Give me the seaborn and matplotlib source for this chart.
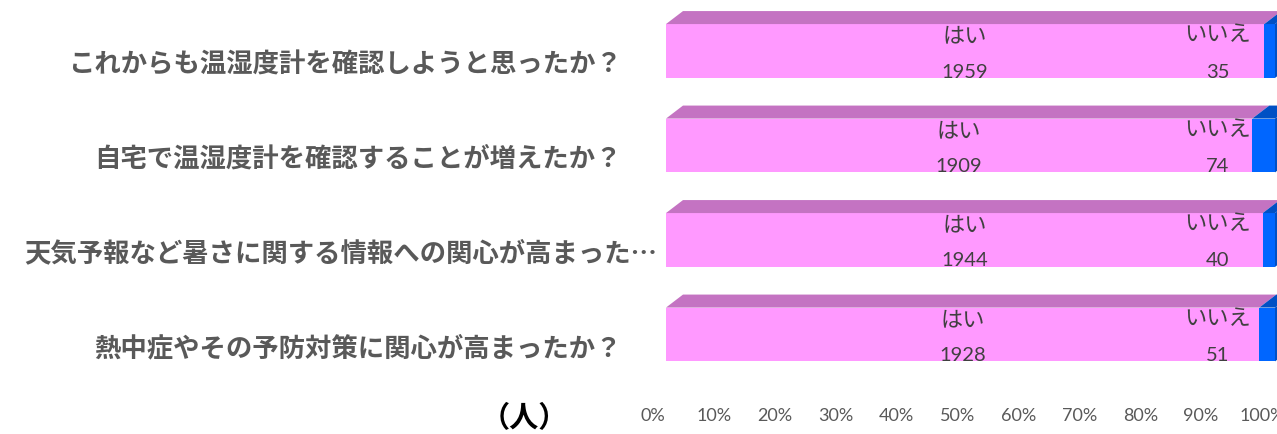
import matplotlib
matplotlib.use("Agg")
import matplotlib.pyplot as plt
import matplotlib.transforms as mtransforms
from matplotlib.patches import Polygon
import numpy as np
import pandas as pd
import seaborn as sns

# ---- data ----
questions = [
    "これからも温湿度計を確認しようと思ったか？",
    "自宅で温湿度計を確認することが増えたか？",
    "天気予報など暑さに関する情報への関心が高まった…",
    "熱中症やその予防対策に関心が高まったか？",
]
yes_counts = [1959, 1909, 1944, 1928]
no_counts = [35, 74, 40, 51]
yes_label = "はい"
no_label = "いいえ"
tick_values = [0.0, 0.1, 0.2, 0.3, 0.4, 0.5, 0.6, 0.7, 0.8, 0.9, 1.0]
tick_labels = ["0%", "10%", "20%", "30%", "40%", "50%", "60%", "70%", "80%", "90%", "100%"]
unit_label = "（人）"

# ---- style ----
PINK = "#FF99FF"
PINK_TOP = "#C473C2"
BLUE = "#0066FF"
BLUE_TOP = "#0050C4"
LABEL_GREY = "#595959"
TEXT_DARK = "#404040"

sns.set_theme(style="white")
plt.rcParams["font.family"] = ["Noto Sans CJK JP", "DejaVu Sans"]

W, H = 1277, 435
fig = plt.figure(figsize=(W / 100, H / 100), dpi=100)
ax_left, ax_right = 666, 1275
ax_top, ax_bottom = 0, 400
ax = fig.add_axes([ax_left / W, 1 - ax_bottom / H, (ax_right - ax_left) / W, (ax_bottom - ax_top) / H])

df = pd.DataFrame({"question": questions, "yes": yes_counts, "no": no_counts})
df["total"] = df["yes"] + df["no"]
df["yes_share"] = df["yes"] / df["total"]
df["all"] = 1.0

bar_w = 0.57
sns.barplot(data=df, y="question", x="all", orient="h", color=BLUE, saturation=1,
            width=bar_w, linewidth=0, ax=ax)
sns.barplot(data=df, y="question", x="yes_share", orient="h", color=PINK, saturation=1,
            width=bar_w, linewidth=0, ax=ax)

row_px = 94.5
first_center_px = 52
ax.set_xlim(0, 1)
ax.set_ylim((ax_bottom - first_center_px) / row_px, (ax_top - first_center_px) / row_px)

# 3D faces
dx = 17 / (ax_right - ax_left)
dy = 13 / row_px


def off(px_x, px_y):
    return ax.transData + mtransforms.ScaledTranslation(px_x / 100, -px_y / 100, fig.dpi_scale_trans)


for i, p in enumerate(df["yes_share"]):
    yt = i - bar_w / 2
    yb = i + bar_w / 2
    ax.add_patch(Polygon([(0, yt), (p, yt), (p + dx, yt - dy), (dx, yt - dy)],
                         closed=True, facecolor=PINK_TOP, edgecolor="none", clip_on=False))
    ax.add_patch(Polygon([(p, yt), (1, yt), (1 + dx, yt - dy), (p + dx, yt - dy)],
                         closed=True, facecolor=BLUE_TOP, edgecolor="none", clip_on=False))
    ax.add_patch(Polygon([(1, yt), (1 + dx, yt - dy), (1 + dx, yb - dy), (1, yb)],
                         closed=True, facecolor=BLUE_TOP, edgecolor="none", clip_on=False))

    # in-bar labels
    ax.text(p / 2, i, yes_label, transform=off(0, -16), ha="center", va="center",
            fontsize=16, color=TEXT_DARK)
    ax.text(p / 2, i, str(df["yes"][i]), transform=off(0, 20), ha="center", va="center",
            fontsize=14.5, color=TEXT_DARK, family=["Lato", "DejaVu Sans"])
    ax.text(1, i, no_label, transform=off(-24, -17), ha="right", va="center",
            fontsize=16, color=TEXT_DARK)
    ax.text(1, i, str(df["no"][i]), transform=off(-57, 20), ha="center", va="center",
            fontsize=14.5, color=TEXT_DARK, family=["Lato", "DejaVu Sans"])

# category labels
for i, q in enumerate(questions):
    x_px = 657 if q.endswith("…") else 622
    tr = mtransforms.blended_transform_factory(fig.transFigure, ax.transData) + \
        mtransforms.ScaledTranslation(0, -13 / 100, fig.dpi_scale_trans)
    ax.text(x_px / W, i, q, transform=tr, ha="right", va="center", fontsize=19,
            fontweight="bold", color=LABEL_GREY, clip_on=False)

# x ticks
ax.set_xticks(tick_values)
ax.set_xticklabels(tick_labels, fontsize=13, color=LABEL_GREY, family=["Lato", "DejaVu Sans"])
ax.tick_params(axis="x", length=0, pad=6)
shift = mtransforms.ScaledTranslation(-13 / 100, 0, fig.dpi_scale_trans)
for lbl in ax.get_xticklabels():
    lbl.set_transform(lbl.get_transform() + shift)
ax.set_yticks([])
ax.set_xlabel("")
ax.set_ylabel("")
for s in ax.spines.values():
    s.set_visible(False)
ax.grid(False)
ax.set_facecolor("none")

fig.text(524 / W, 1 - 418 / H, unit_label, ha="center", va="center", fontsize=21,
         fontweight="bold", color="black")

fig.savefig("out.png", dpi=100, facecolor="white")
